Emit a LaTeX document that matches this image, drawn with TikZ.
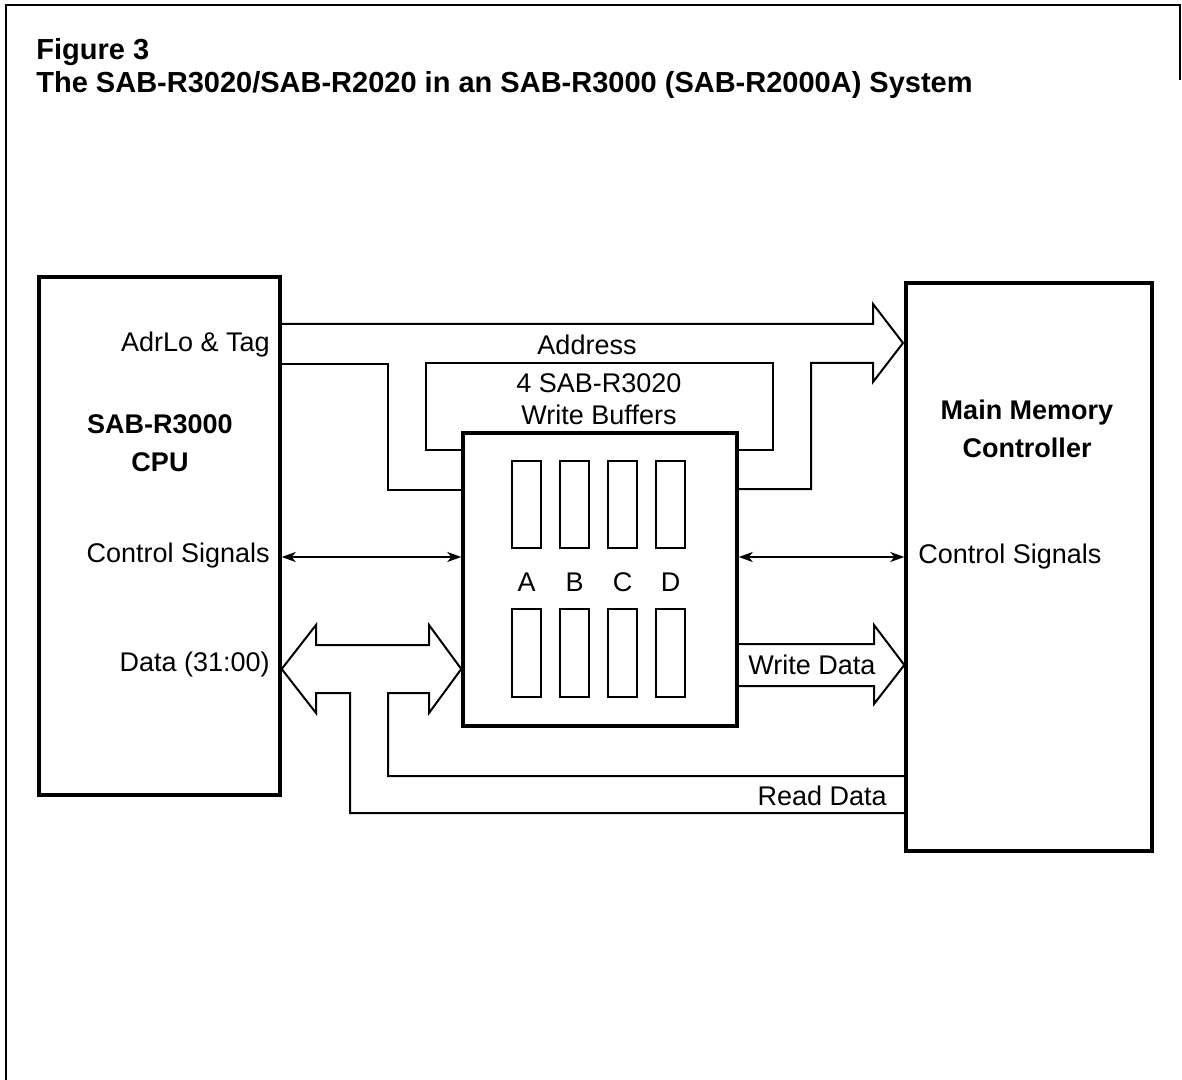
\documentclass[tikz,border=0pt]{standalone}
\usepackage{fontspec}
\setmainfont{Liberation Sans}
\usetikzlibrary{arrows.meta,fit}
\begin{document}
\begin{tikzpicture}[x=0.5pt,y=-0.5pt,
  frameline/.style={line width=1.1pt},
  boxline/.style={draw,line width=1.7pt,inner sep=0pt},
  cellbox/.style={line width=1pt},
  bus/.style={line width=1pt,line join=miter},
  ctl/.style={line width=0.9pt,{Stealth[length=7pt,width=5pt,inset=2pt]}-{Stealth[length=7pt,width=5pt,inset=2pt]}},
  lbl/.style={inner sep=0pt,font=\fontsize{13.5}{16}\selectfont},
  blbl/.style={inner sep=0pt,align=center,font=\fontsize{13.5}{19}\selectfont\bfseries},
  ttl/.style={inner sep=0pt,anchor=west,font=\fontsize{14.5}{17}\selectfont\bfseries}]
\useasboundingbox (0,0) rectangle (1182,1080);
% outer frame
\draw[frameline] (6,1080) -- (6,5) -- (1180,5) -- (1180,80);
% titles
\node[ttl] (fig) at (36,52) {Figure 3};
\node[ttl] (title) at (36,85) {The SAB-R3020/SAB-R2020 in an SAB-R3000 (SAB-R2000A) System};
% main boxes
\node[boxline,fit={(39,277)(280,795)}] (cpu) {};
\node[boxline,fit={(463,433)(737,726)}] (wb) {};
\node[boxline,fit={(906,283)(1152,851)}] (mmc) {};
% buffer cells
\foreach \x/\n [count=\i] in {512/A,560/B,608/C,656/D}{
  \draw[cellbox] (\x,461) rectangle ++(29,87);
  \draw[cellbox] (\x,609) rectangle ++(29,88);
  \node[lbl] (cell\n) at (\x+14.5,582) {\n};
}
% address bus
\draw[bus] (cpu.east |- 0,324) -- (873,324) -- (873,304) -- (903,343) -- (873,382) -- (873,363)
  -- (811,363) -- (811,489) -- (wb.east |- 0,489);
\draw[bus] (cpu.east |- 0,364) -- (388,364) -- (388,490) -- (wb.west |- 0,490);
\draw[bus] (wb.west |- 0,450) -- (426,450) -- (426,363) -- (773,363) -- (773,450) -- (wb.east |- 0,450);
% control signals
\draw[ctl] (cpu.east |- 0,557) -- (wb.west |- 0,557);
\draw[ctl] (wb.east |- 0,557) -- (mmc.west |- 0,557);
% data bus (double arrow + read data)
\draw[bus] (mmc.west |- 0,776) -- (388,776) -- (388,693) -- (429,693) -- (429,713) -- (wb.west |- 0,669)
  -- (429,625) -- (429,645) -- (316,645) -- (316,625) -- (cpu.east |- 0,669) -- (316,713) -- (316,693)
  -- (350,693) -- (350,813) -- (mmc.west |- 0,813);
% write data
\draw[bus] (wb.east |- 0,644) -- (874,644) -- (874,625) -- (mmc.west |- 0,665) -- (874,704) -- (874,686) -- (wb.east |- 0,686);
% labels
\node[lbl,anchor=east] (adrlo) at (270,345) {AdrLo \& Tag};
\node[lbl,anchor=east] (cs1) at (270,556) {Control Signals};
\node[lbl,anchor=east] (data) at (270,665) {Data (31:00)};
\node[blbl] (cpulbl) at (160,443) {SAB-R3000\\CPU};
\node[blbl] (mmclbl) at (1027,429) {Main Memory\\Controller};
\node[lbl,anchor=west] (cs2) at (918,557) {Control Signals};
\node[lbl] (addr) at (587,345) {Address};
\node[lbl,align=center,font=\fontsize{13.5}{16}\selectfont] (wblbl) at (599,399) {4 SAB-R3020\\Write Buffers};
\node[lbl,anchor=west] (wdata) at (748,665) {Write Data};
\node[lbl,anchor=east] (rdata) at (887,796) {Read Data};
\end{tikzpicture}
\end{document}
